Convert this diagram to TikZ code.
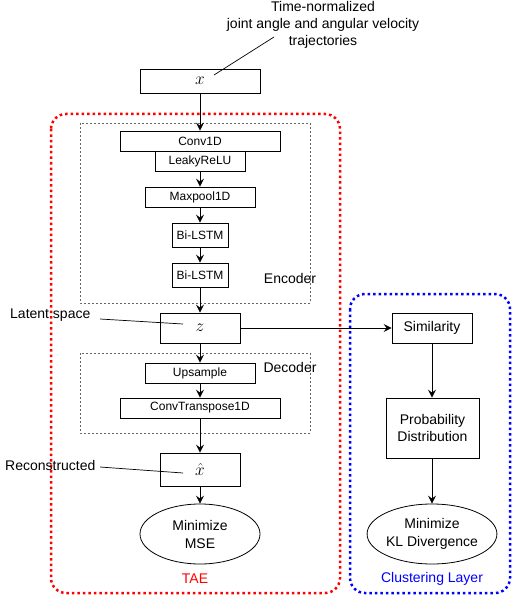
\documentclass[tikz,border=0pt]{standalone}
\usepackage{fontspec}
\setmainfont{Liberation Sans}
\usetikzlibrary{arrows.meta,shapes.geometric}
\begin{document}
\begin{tikzpicture}[x=1pt,y=-1pt,
  every node/.style={font=\fontsize{14}{16}\selectfont, inner sep=0pt},
  sm/.style={font=\fontsize{12}{14}\selectfont},
  mth/.style={font=\fontsize{18}{18}\selectfont},
  arr/.style={-{Stealth[length=8pt,width=8pt,inset=3pt]}, line width=0.8pt},
  lead/.style={line width=0.7pt},
  grp/.style={draw=gray!80!black, line width=0.5pt, dash pattern=on 2pt off 2pt},
  lay/.style={line width=2.5pt, dash pattern=on 2.5pt off 3pt, rounded corners=15pt},
  ell/.style={draw, ellipse, line width=0.8pt, minimum width=120pt, minimum height=60pt, align=center, font=\fontsize{14}{18}\selectfont}
]
\useasboundingbox (0,0) rectangle (512,596);

% group frames
\draw[lay, red] (51,114) rectangle (340,593);
\draw[lay, blue] (350,294) rectangle (510,593);
\draw[grp] (80,123) rectangle (310,303);
\draw[grp] (80,353) rectangle (310,433);

% title
\node[align=center, font=\fontsize{14}{17}\selectfont] (title) at (323,25) {Time-normalized\\joint angle and angular velocity\\trajectories};

% boxes
\node[draw, line width=0.8pt, minimum width=120pt, minimum height=24pt, mth] (x) at (200,81) {$x$};
\node[draw, line width=0.8pt, minimum width=160pt, minimum height=20pt, sm] (conv) at (200,141) {Conv1D};
\node[draw, line width=0.8pt, minimum width=90pt, minimum height=20pt, sm] (relu) at (200,161) {LeakyReLU};
\node[draw, line width=0.8pt, minimum width=110pt, minimum height=20pt, sm] (pool) at (200,197) {Maxpool1D};
\node[draw, line width=0.8pt, minimum width=56pt, minimum height=24pt, sm] (l1) at (200,235) {Bi-LSTM};
\node[draw, line width=0.8pt, minimum width=56pt, minimum height=24pt, sm] (l2) at (200,275) {Bi-LSTM};
\node (enc) at (290,278) {Encoder};

\node[draw, line width=0.8pt, minimum width=80pt, minimum height=30pt, mth] (z) at (200,328) {$z$};
\node (dec) at (290,367) {Decoder};
\node[draw, line width=0.8pt, minimum width=110pt, minimum height=20pt, sm] (up) at (200,373) {Upsample};
\node[draw, line width=0.8pt, minimum width=160pt, minimum height=20pt, sm] (ct) at (200,408) {ConvTranspose1D};
\node[draw, line width=0.8pt, minimum width=80pt, minimum height=33pt, mth] (xh) at (200,469.5) {$\hat{x}$};
\node[ell] (mse) at (200,534) {Minimize\\MSE};
\node[red] (tae) at (195,579) {TAE};

\node[draw, line width=0.8pt, minimum width=80pt, minimum height=30pt] (sim) at (432,328) {Similarity};
\node[draw, line width=0.8pt, minimum width=93pt, minimum height=60pt, align=center, font=\fontsize{14}{17}\selectfont] (prob) at (432.5,428) {Probability\\Distribution};
\node[ell] (kl) at (432,534) {Minimize\\KL Divergence};
\node[blue] (cl) at (432,579) {Clustering Layer};

% side labels
\node[anchor=west] (lat) at (10,315) {Latent space};
\node[anchor=west] (rec) at (5,465) {Reconstructed};
\coordinate (latE) at (183,324);
\coordinate (recE) at (183,473);
\coordinate (titE) at (214,75);
\coordinate (titS) at (274,37);
\draw[lead] (100,319) -- (latE);
\draw[lead] (100,467) -- (recE);
\draw[lead] (titS) -- (titE);

% arrows
\draw[arr] (x.south) -- (conv.north);
\draw[arr] (relu.south) -- (pool.north);
\draw[arr] (pool.south) -- (l1.north);
\draw[arr] (l1.south) -- (l2.north);
\draw[arr] (l2.south) -- (z.north);
\draw[arr] (z.south) -- (up.north);
\draw[arr] (up.south) -- (ct.north);
\draw[arr] (ct.south) -- (xh.north);
\draw[arr] (xh.south) -- (mse.north);
\draw[arr] (z.east) -- (sim.west);
\draw[arr] (sim.south) -- (prob.north -| sim.south);
\draw[arr] (prob.south -| kl.north) -- (kl.north);
\end{tikzpicture}
\end{document}
